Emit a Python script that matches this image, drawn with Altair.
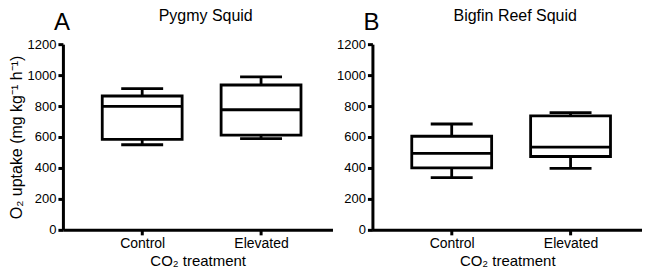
import altair as alt
import pandas as pd

groups = ["Control", "Elevated"]

pygmy_min = [550, 590]
pygmy_q1 = [585, 612]
pygmy_med = [798, 776]
pygmy_q3 = [865, 936]
pygmy_max = [912, 988]

bigfin_min = [338, 397]
bigfin_q1 = [400, 474]
bigfin_med = [494, 534]
bigfin_q3 = [605, 737]
bigfin_max = [684, 758]

y_ticks = [0, 200, 400, 600, 800, 1000, 1200]

FONT = "Liberation Sans"
W, H = 270, 186
BOX_W = 80
CAP_W = 42
SW = 2.8


def panel(title, letter, mn, q1, med, q3, mx, show_ytitle):
    df = pd.DataFrame({"group": groups, "mn": mn, "q1": q1, "med": med, "q3": q3, "mx": mx})
    xenc = alt.X("group:N",
                 scale=alt.Scale(type="point", domain=groups, padding=0.634, align=0.526),
                 axis=alt.Axis(title="CO₂ treatment", labelAngle=0))
    yscale = alt.Scale(domain=[0, 1200], nice=False)
    yaxis = alt.Axis(values=y_ticks, format="d",
                     title="O₂ uptake (mg kg⁻¹ h⁻¹)" if show_ytitle else None)
    base = alt.Chart(df)
    lower = base.mark_rule(color="black", strokeWidth=SW).encode(
        x=xenc, y=alt.Y("mn:Q", scale=yscale, axis=yaxis), y2="q1:Q")
    upper = base.mark_rule(color="black", strokeWidth=SW).encode(
        x=xenc, y=alt.Y("q3:Q", scale=yscale, axis=yaxis), y2="mx:Q")
    box = base.mark_bar(size=BOX_W, fill="white", stroke="black", strokeWidth=SW).encode(
        x=xenc, y=alt.Y("q1:Q", scale=yscale, axis=yaxis), y2="q3:Q")
    median = base.mark_tick(size=BOX_W, thickness=SW, color="black", opacity=1).encode(
        x=xenc, y=alt.Y("med:Q", scale=yscale, axis=yaxis))
    cap_lo = base.mark_tick(size=CAP_W, thickness=SW, color="black", opacity=1).encode(
        x=xenc, y=alt.Y("mn:Q", scale=yscale, axis=yaxis))
    cap_hi = base.mark_tick(size=CAP_W, thickness=SW, color="black", opacity=1).encode(
        x=xenc, y=alt.Y("mx:Q", scale=yscale, axis=yaxis))
    lab = alt.Chart(pd.DataFrame({"t": [letter]})).mark_text(
        fontSize=24, font=FONT, align="left", baseline="alphabetic", color="black"
    ).encode(text="t:N", x=alt.value(-9), y=alt.value(-14))
    ttl = alt.Chart(pd.DataFrame({"t": [title]})).mark_text(
        fontSize=16, font=FONT, align="center", baseline="alphabetic", color="black"
    ).encode(text="t:N", x=alt.value(W / 2 + 8), y=alt.value(-23))
    return alt.layer(lower, upper, box, median, cap_lo, cap_hi, lab, ttl).properties(
        width=W, height=H)


pa = panel("Pygmy Squid", "A", pygmy_min, pygmy_q1, pygmy_med, pygmy_q3, pygmy_max, True)
pb = panel("Bigfin Reef Squid", "B", bigfin_min, bigfin_q1, bigfin_med, bigfin_q3, bigfin_max, False)

chart = alt.hconcat(pa, pb, spacing=4).properties(
    padding={"left": 0, "top": 0, "right": 0, "bottom": 0}
).configure_view(
    stroke=None
).configure_axis(
    domainColor="black", domainWidth=3, tickColor="black", tickWidth=3, tickSize=5,
    labelColor="black", labelFont=FONT, labelPadding=2,
    titleColor="black", titleFont=FONT, titleFontWeight="normal",
    grid=False
).configure_axisX(
    titlePadding=3, labelFontSize=14, titleFontSize=15
).configure_axisY(
    titlePadding=3, labelFontSize=13, titleFontSize=16
)

chart.save("out.html", embed_options={"renderer": "svg", "actions": False})
